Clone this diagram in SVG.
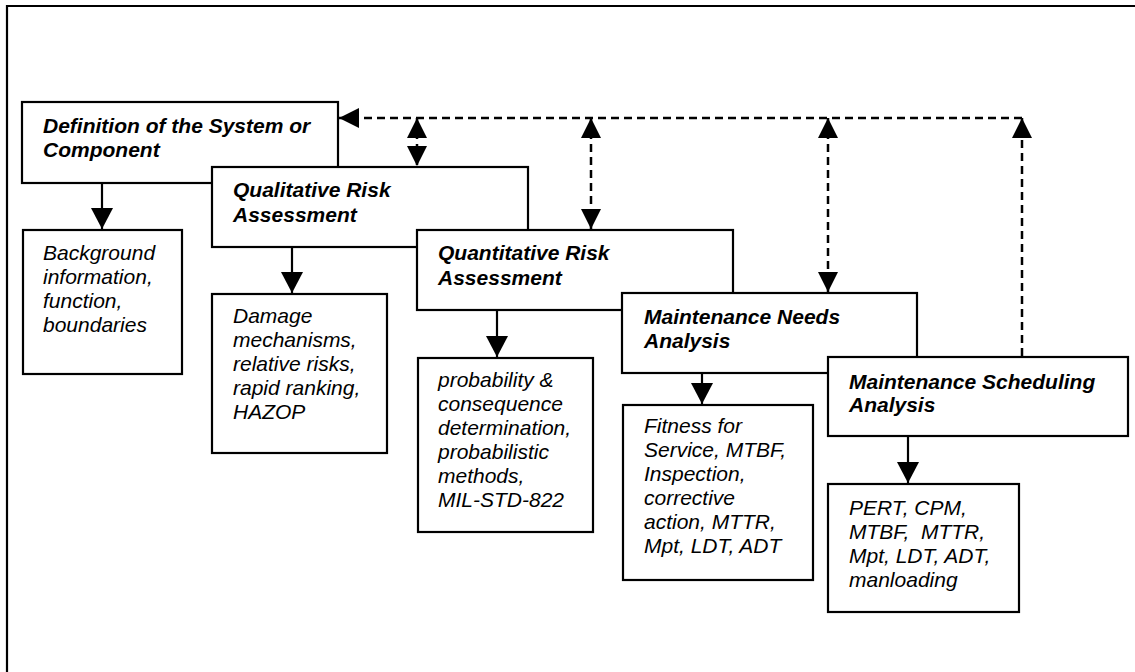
<svg xmlns="http://www.w3.org/2000/svg" width="1135" height="672" viewBox="0 0 1135 672">
  <style>
    .box { fill: #ffffff; stroke: #000000; stroke-width: 2.2; }
    .title { font-family: "Liberation Sans", Arial, sans-serif; font-size: 21px; font-weight: bold; font-style: italic; fill: #000000; }
    .body { font-family: "Liberation Sans", Arial, sans-serif; font-size: 21px; font-style: italic; fill: #000000; white-space: pre; }
    .solid { fill: none; stroke: #000000; stroke-width: 2.2; }
    .dash { fill: none; stroke: #000000; stroke-width: 2.5; stroke-dasharray: 8 5; }
    .frame { fill: none; stroke: #000000; stroke-width: 2.2; }
  </style>
  <defs>
    <marker id="solidHead" viewBox="0 0 21 22" markerWidth="21" markerHeight="22" refX="21" refY="11" orient="auto" markerUnits="userSpaceOnUse">
      <path d="M0,0 L21,11 L0,22 Z" fill="#000000" stroke="none"/>
    </marker>
    <marker id="dashHead" viewBox="0 0 20 20" markerWidth="20" markerHeight="20" refX="20" refY="10" orient="auto-start-reverse" markerUnits="userSpaceOnUse">
      <path d="M0,0 L20,10 L0,20 Z" fill="#000000" stroke="none"/>
    </marker>
  </defs>

  <rect width="1135" height="672" fill="#ffffff"/>

  <!-- page frame: top and left rules only -->
  <path class="frame" d="M7,672 V6 H1135"/>

  <g id="definition">
    <rect class="box" x="22" y="102" width="316" height="81"/>
    <text class="title" x="43" y="133">Definition of the System or</text>
    <text class="title" x="43" y="157">Component</text>
  </g>

  <g id="background">
    <rect class="box" x="23" y="230" width="159" height="144"/>
    <text class="body" x="43" y="260">Background</text>
    <text class="body" x="43" y="284">information,</text>
    <text class="body" x="43" y="308">function,</text>
    <text class="body" x="43" y="332">boundaries</text>
  </g>

  <g id="qualitative">
    <rect class="box" x="212" y="167" width="316" height="80"/>
    <text class="title" x="233" y="197">Qualitative Risk</text>
    <text class="title" x="233" y="222">Assessment</text>
  </g>

  <g id="damage">
    <rect class="box" x="212" y="294" width="175" height="159"/>
    <text class="body" x="233" y="323">Damage</text>
    <text class="body" x="233" y="347">mechanisms,</text>
    <text class="body" x="233" y="371">relative risks,</text>
    <text class="body" x="233" y="395">rapid ranking,</text>
    <text class="body" x="233" y="419">HAZOP</text>
  </g>

  <g id="quantitative">
    <rect class="box" x="417" y="230" width="316" height="80"/>
    <text class="title" x="438" y="260">Quantitative Risk</text>
    <text class="title" x="438" y="285">Assessment</text>
  </g>

  <g id="probability">
    <rect class="box" x="418" y="358" width="175" height="174"/>
    <text class="body" x="438" y="387">probability &amp;</text>
    <text class="body" x="438" y="411">consequence</text>
    <text class="body" x="438" y="435">determination,</text>
    <text class="body" x="438" y="459">probabilistic</text>
    <text class="body" x="438" y="483">methods,</text>
    <text class="body" x="438" y="507">MIL-STD-822</text>
  </g>

  <g id="needs">
    <rect class="box" x="622" y="293" width="295" height="80"/>
    <text class="title" x="644" y="324">Maintenance Needs</text>
    <text class="title" x="644" y="348">Analysis</text>
  </g>

  <g id="fitness">
    <rect class="box" x="623" y="405" width="190" height="175"/>
    <text class="body" x="644" y="433">Fitness for</text>
    <text class="body" x="644" y="457">Service, MTBF,</text>
    <text class="body" x="644" y="481">Inspection,</text>
    <text class="body" x="644" y="505">corrective</text>
    <text class="body" x="644" y="529">action, MTTR,</text>
    <text class="body" x="644" y="553">Mpt, LDT, ADT</text>
  </g>

  <g id="scheduling">
    <rect class="box" x="828" y="357" width="300" height="79"/>
    <text class="title" x="849" y="389">Maintenance Scheduling</text>
    <text class="title" x="849" y="412">Analysis</text>
  </g>

  <g id="pert">
    <rect class="box" x="828" y="484" width="191" height="128"/>
    <text class="body" x="849" y="515">PERT, CPM,</text>
    <text class="body" x="849" y="539">MTBF,  MTTR,</text>
    <text class="body" x="849" y="563">Mpt, LDT, ADT,</text>
    <text class="body" x="849" y="587">manloading</text>
  </g>

  <g id="connectors">
    <!-- each stage feeds its detail box -->
    <path class="solid" d="M102,184 V229" marker-end="url(#solidHead)"/>
    <path class="solid" d="M292,248 V293" marker-end="url(#solidHead)"/>
    <path class="solid" d="M497,311 V357" marker-end="url(#solidHead)"/>
    <path class="solid" d="M702,374 V404" marker-end="url(#solidHead)"/>
    <path class="solid" d="M908,437 V483" marker-end="url(#solidHead)"/>

    <!-- feedback bus back to the system definition -->
    <path class="dash" d="M1022,118 H339" marker-end="url(#dashHead)"/>
    <path class="dash" d="M417,118 V166" marker-start="url(#dashHead)" marker-end="url(#dashHead)"/>
    <path class="dash" d="M591,118 V229" marker-start="url(#dashHead)" marker-end="url(#dashHead)"/>
    <path class="dash" d="M828,118 V292" marker-start="url(#dashHead)" marker-end="url(#dashHead)"/>
    <path class="dash" d="M1022,356 V118" marker-end="url(#dashHead)"/>
  </g>
</svg>
